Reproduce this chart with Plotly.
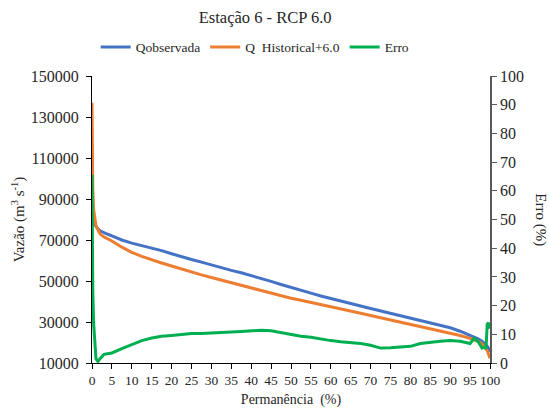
import plotly.graph_objects as go

permanencia = [0, 0.1, 0.2, 0.4, 0.7, 1, 1.5, 2, 3, 4, 5, 7.5, 10, 12.5, 15, 17.5, 20, 22.5, 25, 27.5,
               30, 32.5, 35, 37.5, 40, 42.5, 45, 47.5, 50, 52.5, 55, 57.5, 60, 62.5, 65, 67.5, 70, 72.5,
               75, 77.5, 80, 82.5, 85, 87.5, 90, 92.5, 95, 96, 97, 98, 98.5, 99, 99.3, 99.6, 100]

q_observada = [84000, 82000, 80500, 79000, 77500, 76500, 75500, 74500, 73500, 72800, 72000, 70000, 68500,
               67300, 66200, 64800, 63300, 61800, 60500, 59200, 57800, 56500, 55200, 54000, 52700, 51300,
               49800, 48300, 46800, 45500, 44100, 42700, 41400, 40200, 39000, 37800, 36600, 35400, 34200,
               33000, 31900, 30800, 29600, 28400, 27200, 25500, 23500, 22700, 21800, 20600, 19800, 19000,
               18200, 17200, 15500]

q_historical = [137000, 110000, 95000, 85000, 79500, 77000, 75000, 73000, 71500, 70500, 69500, 66500, 64000,
                62000, 60300, 58800, 57300, 55800, 54300, 53000, 51700, 50400, 49100, 47800, 46500, 45200,
                43900, 42700, 41600, 40600, 39600, 38600, 37600, 36500, 35400, 34300, 33200, 32100, 31000,
                29900, 28900, 27900, 26900, 25800, 24700, 23400, 22000, 21300, 20600, 19300, 18200, 17000,
                16000, 14500, 12300]

erro = [65.5, 40, 25, 14, 6, 1.5, 0.5, 1.5, 3, 3.2, 3.5, 5, 6.5, 7.8, 8.7, 9.3, 9.6, 10, 10.3, 10.3,
        10.4, 10.6, 10.8, 11, 11.2, 11.4, 11.2, 10.6, 9.8, 9.3, 9, 8.3, 7.8, 7.4, 7.2, 6.8, 6.2, 5.2,
        5.3, 5.5, 5.8, 6.8, 7.3, 7.6, 7.8, 7.6, 6.8, 8.6, 7.5, 5.2, 5.5, 5, 13.5, 14, 12]

x_ticks = list(range(0, 101, 5))
y_ticks = list(range(10000, 150001, 20000))
y2_ticks = list(range(0, 101, 10))

FONT = "Liberation Serif, serif"
TXT = "#262626"

fig = go.Figure()
fig.add_trace(go.Scatter(x=permanencia, y=q_observada, mode="lines", name="Qobservada",
                         line=dict(color="#4472C4", width=3)))
fig.add_trace(go.Scatter(x=permanencia, y=q_historical, mode="lines", name="Q  Historical+6.0",
                         line=dict(color="#ED7D31", width=3)))
fig.add_trace(go.Scatter(x=permanencia, y=erro, mode="lines", name="Erro", yaxis="y2",
                         line=dict(color="#00B050", width=3)))

fig.update_layout(
    template="none",
    width=549, height=414,
    paper_bgcolor="white", plot_bgcolor="white",
    margin=dict(l=92, r=59, t=76, b=51, autoexpand=False),
    font=dict(family=FONT, color=TXT, size=13),
    title=dict(text="Estação 6 - RCP 6.0", x=0.483, xanchor="center", y=0.958, yanchor="middle",
               font=dict(family=FONT, size=16.5, color=TXT)),
    legend=dict(orientation="h", x=0.41, xanchor="center", y=1.1, yanchor="middle",
                font=dict(family=FONT, size=13.5, color=TXT), bgcolor="rgba(0,0,0,0)",
                itemwidth=30, tracegroupgap=0),
    showlegend=True,
    xaxis=dict(range=[0, 100], tickvals=x_ticks, ticktext=[str(v) for v in x_ticks],
               automargin=False,
               showgrid=False, zeroline=False, showline=True, linecolor="black", linewidth=1,
               ticks="outside", ticklen=5, tickcolor="black",
               tickfont=dict(family=FONT, size=13.5, color=TXT),
               title=dict(text="Permanência  (%)", font=dict(family=FONT, size=14, color=TXT), standoff=6)),
    yaxis=dict(range=[10000, 150000], tickvals=y_ticks, ticktext=[str(v) for v in y_ticks],
               automargin=False, ticklabelstandoff=4,
               showgrid=False, zeroline=False, showline=True, linecolor="black", linewidth=1,
               ticks="outside", ticklen=5, tickcolor="black",
               tickfont=dict(family=FONT, size=16, color=TXT),
               title=dict(text="Vazão (m<sup>3</sup> s<sup>-1</sup>)", font=dict(family=FONT, size=15, color=TXT),
                          standoff=2)),
    yaxis2=dict(range=[0, 100], tickvals=y2_ticks, ticktext=[str(v) for v in y2_ticks],
                overlaying="y", side="right", anchor="x", automargin=False,
                showgrid=False, zeroline=False, showline=True, linecolor="#595959", linewidth=1.5,
                ticks="outside", ticklen=5, tickcolor="#595959",
                tickfont=dict(family=FONT, size=16, color=TXT)),
    annotations=[dict(text="Erro (%)", xref="paper", yref="paper", x=1.126, y=0.5,
                      xanchor="center", yanchor="middle", textangle=90, showarrow=False,
                      font=dict(family=FONT, size=15, color=TXT))],
)

fig.write_html("out.html", config={"displayModeBar": False},
               post_script="document.body.style.margin='0px';document.body.style.padding='0px';")
